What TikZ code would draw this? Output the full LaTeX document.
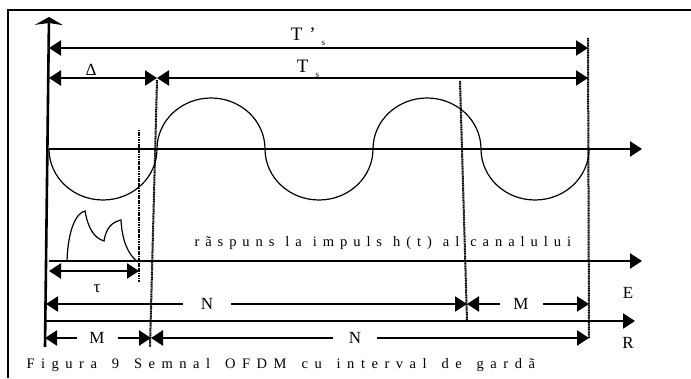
\documentclass[tikz,border=0pt]{standalone}
\usepackage{fontspec}
\setmainfont{Liberation Serif}
\newfontfamily\respfont{Liberation Serif}[LetterSpace=41, WordSpace=1.15]
\newfontfamily\capfont{Liberation Serif}[LetterSpace=45, WordSpace=1.47]
\usetikzlibrary{arrows.meta}

\begin{document}
\begin{tikzpicture}[x=1pt, y=-1pt,
    axis/.style = {line width=2.2pt, arrows={-Triangle[length=12pt,width=15pt]}},
    dim/.style = {line width=2.2pt, arrows={Triangle[length=12pt,width=15pt]-Triangle[length=12pt,width=15pt]}},
    guard/.style = {line width=2pt, dash pattern=on 1.2pt off 0.5pt},
    wave/.style = {line width=1.2pt},
    lbl/.style = {font=\fontsize{17}{19}\selectfont, inner sep=0pt},
    gap/.style = {lbl, fill=white, minimum height=14pt}]
    \useasboundingbox (0,0) rectangle (691,378);

    % frame
    \draw[line width=1.3pt] (8,378) -- (8,10) -- (691,10);

    % time axis
    \coordinate (o) at (45,347);
    \coordinate (top) at (49,17);
    \draw[line width=2.6pt, arrows={-Stealth[length=8pt,width=28pt,inset=2pt]}] (o) -- (top);

    % guard interval and symbol limits
    \coordinate (g1a) at (157,80);  \coordinate (g1b) at (150,347);
    \coordinate (g2a) at (139,130); \coordinate (g2b) at (139,282);
    \coordinate (g3a) at (460,81);  \coordinate (g3b) at (467,321);
    \coordinate (g4a) at (588,38);  \coordinate (g4b) at (589,338);
    \draw[guard] (g1a) -- (g1b);
    \draw[guard] (g2a) -- (g2b);
    \draw[guard] (g3a) -- (g3b);
    \draw[guard] (g4a) -- (g4b);

    % durations
    \draw[dim] (49,48) -- (588,48);
    \node[font=\fontsize{19}{21}\selectfont] (Tp) at (308,37) {T\hspace{7pt}’\hspace{6pt}\raisebox{-5pt}{\fontsize{9}{10}\selectfont s}};
    \draw[dim] (49,78) -- (157,78);
    \draw[dim] (157,78) -- (588,78);
    \node[lbl] (D) at (91,70) {Δ};
    \node[font=\fontsize{19}{21}\selectfont] (Ts) at (308,69) {T\hspace{7pt}\raisebox{-5pt}{\fontsize{9}{10}\selectfont s}};

    % OFDM signal
    \coordinate (s0) at (49,149);
    \coordinate (s1) at (642,149);
    \draw[axis] (s0) -- (s1);
    \draw[wave] (s0)
        arc[start angle=180, end angle=360, x radius=54pt, y radius=51pt]
        arc[start angle=180, end angle=0, x radius=54pt, y radius=51pt]
        arc[start angle=180, end angle=360, x radius=54pt, y radius=51pt]
        arc[start angle=180, end angle=0, x radius=54pt, y radius=51pt]
        arc[start angle=180, end angle=360, x radius=54pt, y radius=51pt];

    % channel impulse response
    \coordinate (h0) at (49,261);
    \coordinate (h1) at (642,261);
    \draw[axis] (h0) -- (h1);
    \draw[wave] (67,261) .. controls (68,230) and (76,213) .. (85,211)
        .. controls (88,228) and (94,238) .. (104,241)
        .. controls (106,228) and (112,222) .. (121,220)
        .. controls (122,240) and (128,255) .. (138,262);
    \node[anchor=west, font=\respfont\fontsize{14.5}{16}\selectfont] (resp) at (191,243) {rãspuns la impuls h(t) al canalului};
    \draw[dim] (49,271) -- (139,271);
    \node[lbl] (tau) at (97,289) {τ};

    % emitted and received frames
    \draw[dim] (46,304) -- (467,304);
    \node[gap, minimum width=48pt] (NE) at (207,304) {N};
    \draw[dim] (467,304) -- (589,304);
    \node[gap, minimum width=43pt] (ME) at (521,304) {M};
    \draw[axis] (45,321) -- (635,321);
    \node[lbl] (E) at (628,293) {E};
    \draw[dim] (45,338) -- (151,338);
    \node[gap, minimum width=41pt] (MR) at (97,338) {M};
    \draw[dim] (151,338) -- (589,338);
    \node[gap, minimum width=44pt] (NR) at (355,338) {N};
    \node[lbl] (R) at (628,343) {R};

    \node[anchor=west, font=\capfont\fontsize{14.5}{16}\selectfont] (cap) at (23,365) {Figura 9 Semnal OFDM cu interval de gardã};
\end{tikzpicture}
\end{document}
